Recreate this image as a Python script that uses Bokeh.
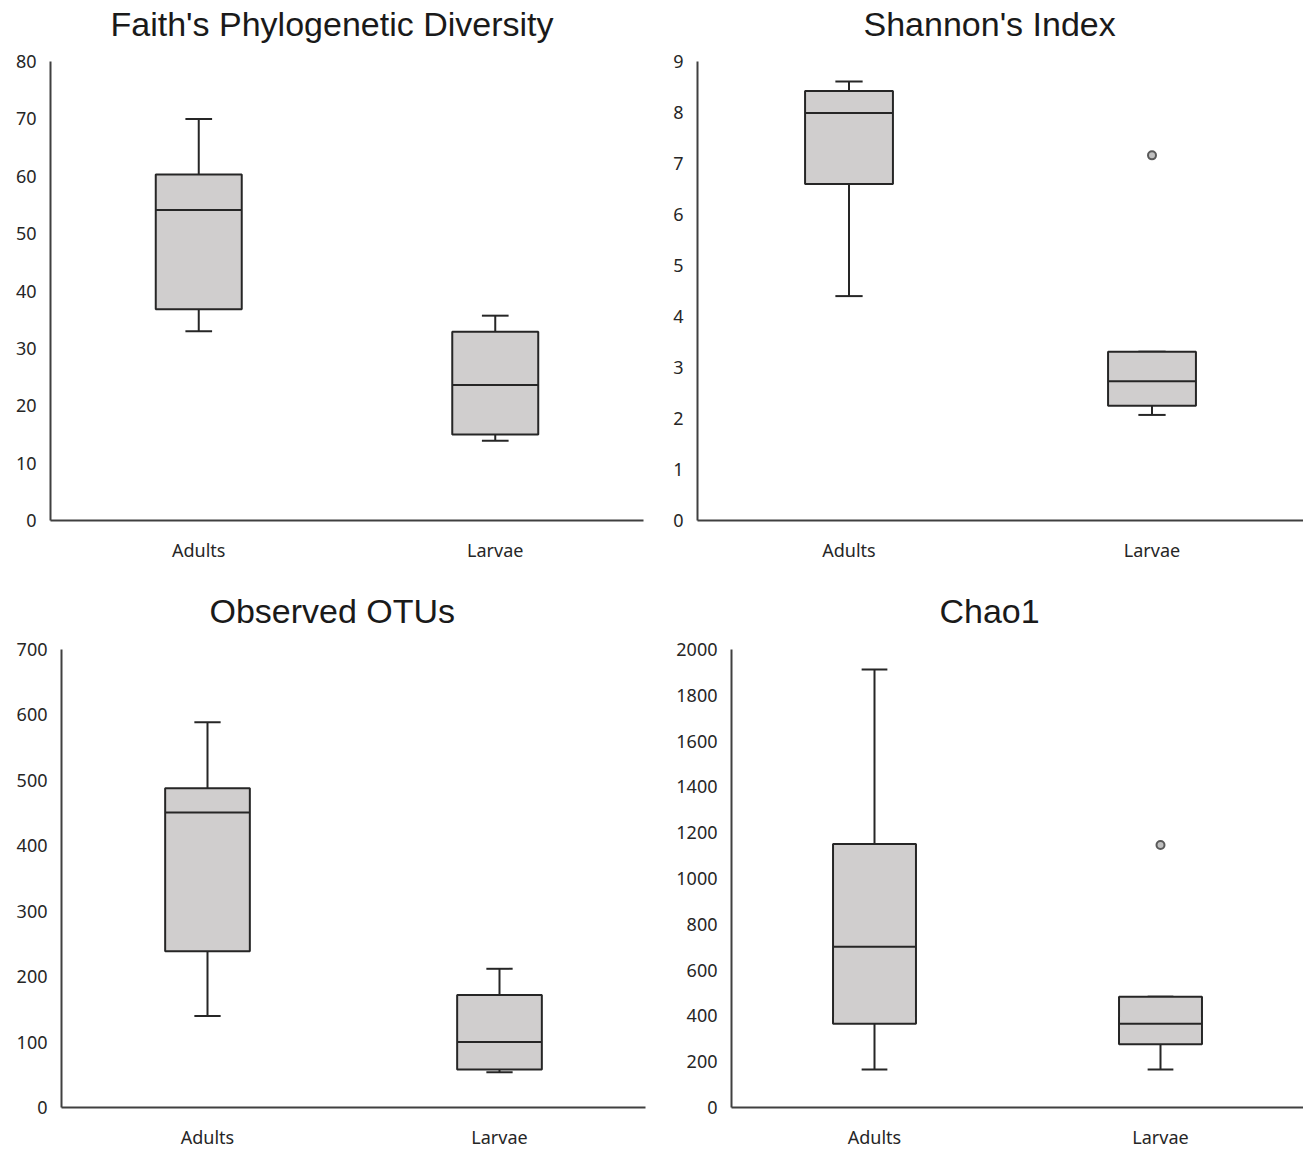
from bokeh.plotting import figure
from bokeh.layouts import column, row
from bokeh.models import FactorRange, Range1d, FixedTicker, ColumnDataSource, Title
from bokeh.transform import dodge
from bokeh.embed import file_html
from bokeh.resources import INLINE

categories = ["Adults", "Larvae"]

faith_low = [33.0, 13.9]
faith_q1 = [36.8, 15.0]
faith_med = [54.1, 23.6]
faith_q3 = [60.3, 32.9]
faith_high = [70.0, 35.7]
faith_out_cat = []
faith_out_val = []
faith_ticks = [0, 10, 20, 30, 40, 50, 60, 70, 80]

shannon_low = [4.40, 2.07]
shannon_q1 = [6.60, 2.25]
shannon_med = [7.99, 2.73]
shannon_q3 = [8.42, 3.31]
shannon_high = [8.61, 3.31]
shannon_out_cat = ["Larvae"]
shannon_out_val = [7.16]
shannon_ticks = [0, 1, 2, 3, 4, 5, 6, 7, 8, 9]

otus_low = [140, 54]
otus_q1 = [239, 58]
otus_med = [451, 100]
otus_q3 = [488, 172]
otus_high = [589, 212]
otus_out_cat = []
otus_out_val = []
otus_ticks = [0, 100, 200, 300, 400, 500, 600, 700]

chao_low = [166, 166]
chao_q1 = [366, 276]
chao_med = [702, 366]
chao_q3 = [1151, 484]
chao_high = [1913, 484]
chao_out_cat = ["Larvae"]
chao_out_val = [1146]
chao_ticks = [0, 200, 400, 600, 800, 1000, 1200, 1400, 1600, 1800, 2000]

BOX_FILL = "#d0cece"
LINE = "#262626"
AXIS = "#404040"
LABEL = "#262626"
BOX_W = 0.29
CAP_W = 0.09


def make_panel(title, low, q1, med, q3, high, out_cat, out_val, ticks,
               width, height, b_left, b_right, b_top, b_bottom, title_offset,
               gap):
    p = figure(x_range=FactorRange(*categories, range_padding=0),
               y_range=Range1d(ticks[0], ticks[-1]),
               width=width, height=height, output_backend="svg",
               toolbar_location=None, min_border_left=b_left,
               min_border_right=b_right, min_border_top=b_top,
               min_border_bottom=b_bottom)
    p.title.text = ""
    # spacer between frame and title
    p.add_layout(Title(text=" ", text_font_size="2px", standoff=gap,
                       text_color="white"), "above")
    p.add_layout(Title(text=title, text_font="Liberation Sans",
                       text_font_size="34px", text_font_style="normal",
                       text_color="#1a1a1a", align="left",
                       offset=title_offset, standoff=0), "above")
    p.outline_line_color = None
    p.background_fill_color = "white"
    p.border_fill_color = "white"
    p.xgrid.grid_line_color = None
    p.ygrid.grid_line_color = None

    p.yaxis.ticker = FixedTicker(ticks=ticks)
    for ax in (p.xaxis[0], p.yaxis[0]):
        ax.axis_line_color = AXIS
        ax.axis_line_width = 2
        ax.major_tick_line_color = None
        ax.minor_tick_line_color = None
        ax.major_tick_out = 0
        ax.major_tick_in = 0
        ax.minor_tick_out = 0
        ax.major_label_text_font = "Noto Sans"
        ax.major_label_text_font_size = "18px"
        ax.major_label_text_color = LABEL
    p.yaxis.major_label_standoff = 14
    p.xaxis.major_label_standoff = 17

    src = ColumnDataSource(dict(cat=categories, low=low, q1=q1, med=med,
                                q3=q3, high=high))
    # whiskers
    p.segment(x0="cat", x1="cat", y0="q3", y1="high", source=src,
              line_color=LINE, line_width=2)
    p.segment(x0="cat", x1="cat", y0="low", y1="q1", source=src,
              line_color=LINE, line_width=2)
    # caps
    p.segment(x0=dodge("cat", -CAP_W / 2, range=p.x_range),
              x1=dodge("cat", CAP_W / 2, range=p.x_range),
              y0="high", y1="high", source=src, line_color=LINE, line_width=2)
    p.segment(x0=dodge("cat", -CAP_W / 2, range=p.x_range),
              x1=dodge("cat", CAP_W / 2, range=p.x_range),
              y0="low", y1="low", source=src, line_color=LINE, line_width=2)
    # boxes
    p.vbar(x="cat", bottom="q1", top="q3", width=BOX_W, source=src,
           fill_color=BOX_FILL, line_color=LINE, line_width=2)
    # medians
    p.segment(x0=dodge("cat", -BOX_W / 2, range=p.x_range),
              x1=dodge("cat", BOX_W / 2, range=p.x_range),
              y0="med", y1="med", source=src, line_color=LINE, line_width=2)
    if out_cat:
        p.scatter(x=out_cat, y=out_val, size=8, marker="circle",
                  fill_color="#bfbfbf", line_color="#595959", line_width=2)
    return p


p1 = make_panel("Faith's Phylogenetic Diversity", faith_low, faith_q1, faith_med,
                faith_q3, faith_high, faith_out_cat, faith_out_val, faith_ticks,
                660, 587, 50, 17, 61, 67, 60, 15)
p2 = make_panel("Shannon's Index", shannon_low, shannon_q1, shannon_med,
                shannon_q3, shannon_high, shannon_out_cat, shannon_out_val,
                shannon_ticks, 643, 587, 37, 0, 61, 67, 166, 15)
p3 = make_panel("Observed OTUs", otus_low, otus_q1, otus_med, otus_q3, otus_high,
                otus_out_cat, otus_out_val, otus_ticks,
                660, 564, 61, 15, 62, 43, 148, 16)
p4 = make_panel("Chao1", chao_low, chao_q1, chao_med, chao_q3, chao_high,
                chao_out_cat, chao_out_val, chao_ticks,
                643, 564, 71, 0, 62, 43, 208, 16)

layout = column(row(p1, p2), row(p3, p4))

open("out.html", "w").write(file_html(layout, INLINE))
